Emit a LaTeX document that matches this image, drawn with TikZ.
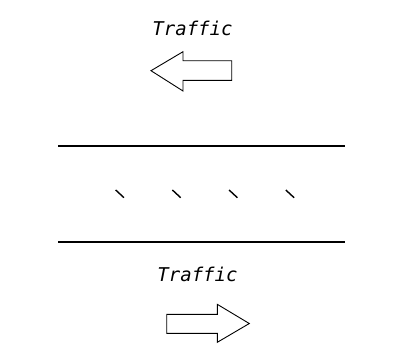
\documentclass[tikz,border=0pt]{standalone}
\usepackage{fontspec}
\newfontfamily\trafficfont{DejaVu Sans Mono}
\begin{document}
\begin{tikzpicture}[x=1pt,y=-1pt,
  lbl/.style={font=\trafficfont\itshape\fontsize{19}{19}\selectfont, inner sep=0pt, anchor=base},
  road/.style={line width=1.7pt},
  lane/.style={line width=1.4pt},
  bigarrow/.style={line width=0.9pt, line join=miter}]
\useasboundingbox (0,0) rectangle (393,349);
% labels
\node[lbl] (t1) at (192.5,35.7) {Traffic};
\node[lbl] (t2) at (197.5,281) {Traffic};
% top arrow (pointing left)
\draw[bigarrow] (151,70.7) -- (183,51.7) -- (183,60.7) -- (231.7,60.7) -- (231.7,80.3) -- (183,80.3) -- (183,91) -- cycle;
% bottom arrow (pointing right)
\draw[bigarrow] (249.3,323.5) -- (217.3,304.3) -- (217.3,314.3) -- (166.7,314.3) -- (166.7,333.3) -- (217.3,333.3) -- (217.3,342.3) -- cycle;
% road edges
\coordinate (r1a) at (58.3,146);
\coordinate (r1b) at (345,146);
\coordinate (r2a) at (58.3,242);
\coordinate (r2b) at (345,242);
\draw[road] (r1a) -- (r1b);
\draw[road] (r2a) -- (r2b);
% lane marks
\foreach \x in {115.7,172.4,229.1,285.8}{
  \draw[lane] (\x,190) -- ++(8.3,7.7);
}
\end{tikzpicture}
\end{document}
